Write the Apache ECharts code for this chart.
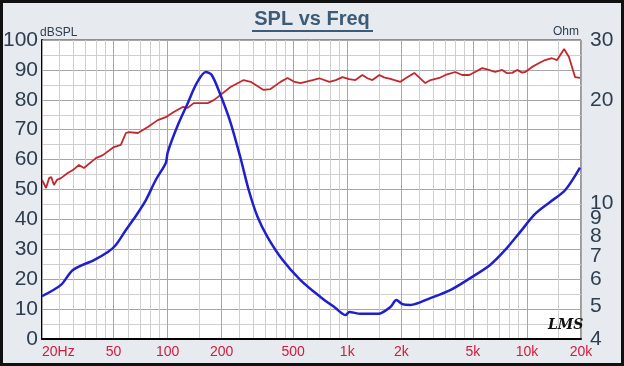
<!DOCTYPE html>
<html><head><meta charset="utf-8">
<script src="https://cdn.jsdelivr.net/npm/echarts@6/dist/echarts.min.js"></script>
<style>html,body{margin:0;padding:0;background:#111;}#c{width:624px;height:366px;}</style>
</head><body><div id="c"></div>
<script>
// SPL (dB) curve
const splFreq = [20,21.05,21.9,22.5,23.3,24.2,25.5,27.8,29.7,32.1,34.2,39.9,43.6,50.2,54.9,58.6,60.8,68.3,77.6,88.1,97.7,108.2,121.4,129.4,139.7,167.2,180.6,190,224,265,290,342,374,425,465,504,549,641,698,796,863,940,1024,1110,1214,1294,1380,1510,1602,1738,1782,1975,2114,2362,2718,2910,3252,3525,3990,4366,4775,5176,5637,6140,6654,7280,7760,8279,8820,9400,9775,10690,11640,12620,13800,14720,16110,17140,18530,19740];
const splDb   = [53.2,50.5,53.8,54.2,51.5,53.2,53.8,55.5,56.5,58.2,57.2,60.5,61.5,64.2,64.9,68.9,69.2,68.9,70.9,73.2,74.2,75.9,77.6,77.3,78.9,78.9,79.9,80.9,84.3,86.6,86.0,83.3,83.6,86.0,87.3,86.1,85.6,86.6,87.2,86.0,86.6,87.6,86.9,86.6,88.3,87.2,86.6,88.3,87.5,87.0,87.2,86.0,87.2,89.0,85.6,86.6,87.3,88.3,89.3,88.3,88.3,89.4,90.6,90.0,89.3,90.0,88.9,89.0,90.0,89.1,89.3,91.0,92.2,93.3,93.9,93.3,97.0,94.3,87.6,87.3];
// Impedance (Ohm) curve
const impFreq = [20,25.5,29.7,38.9,46.5,51.5,58.6,66.5,75.7,86,97.7,100.2,113.9,129.4,145,163,176,197,224,255,283,317,360,437,549,709,860,978,1028,1184,1490,1738,1876,2026,2244,2898,3740,4834,6240,7570,9160,11100,13460,16300,19740];
const impOhm  = [5.34,5.76,6.37,6.81,7.19,7.54,8.34,9.16,10.2,11.7,13.1,14.1,16.9,19.6,22.4,24.2,23.7,20.7,17.2,13.5,10.9,9.1,7.95,6.81,5.95,5.31,4.93,4.70,4.80,4.74,4.74,4.96,5.20,5.06,5.03,5.27,5.56,6.03,6.59,7.29,8.22,9.29,10.07,10.9,12.7];
// Tick labels
const freqMajor = [20,50,100,200,500,1000,2000,5000,10000,20000];
const freqMinor = [25,30,35,40,45,60,70,80,90,150,250,300,350,400,450,600,700,800,900,1500,2500,3000,3500,4000,4500,6000,7000,8000,9000,15000];
const ohmTicks = [4,5,6,7,8,9,10,20,30];

const L = Math.log10;
const fLabel = v => { const f = Math.round(Math.pow(10, v)); if (f === 20) return '20Hz'; return f >= 1000 ? (f/1000) + 'k' : String(f); };
const chart = echarts.init(document.getElementById('c'));
const gridCol = '#a6a6a6', gridMinor = '#cfcfcf';
chart.setOption({
  animation: false,
  backgroundColor: '#111',
  graphic: [
    {type:'rect', z:-10, shape:{x:3,y:3,width:618,height:360}, style:{fill:'#e7eaee'}},
    {type:'text', left:'center', top:9, style:{text:'SPL vs Freq', font:'bold 20px "Liberation Sans", Arial', fill:'#3b5b78'}},
    {type:'line', shape:{x1:252,y1:31,x2:373,y2:31}, style:{stroke:'#3b5b78', lineWidth:2}},
    {type:'text', left:40, top:27, style:{text:'dBSPL', font:'12px "Liberation Sans", Arial', fill:'#2d3e50'}},
    {type:'text', left:553, top:26, style:{text:'Ohm', font:'12px "Liberation Sans", Arial', fill:'#2d3e50'}},
    {type:'text', left:548, top:318, z:100, style:{text:'LMS', font:'italic bold 14px "DejaVu Serif", serif', fill:'#111'}}
  ],
  grid: {left:41, right:43, top:40, bottom:27, show:true, backgroundColor:'#fff', borderColor:'#333', borderWidth:1},
  xAxis: [
    {type:'value', min:L(20), max:L(20000),
     axisLine:{show:true, lineStyle:{color:'#000', width:2}},
     axisTick:{show:false, customValues: freqMajor.map(L)},
     axisLabel:{customValues: freqMajor.map(L), formatter: fLabel, color:'#d41a3c', fontSize:14, fontFamily:'"Liberation Sans", Arial', margin:6, alignMinLabel:'left'},
     splitLine:{show:true, lineStyle:{color:gridCol, width:1}}, z:3},
    {type:'value', min:L(20), max:L(20000), position:'bottom',
     axisLine:{show:false}, axisLabel:{show:false},
     axisTick:{show:false, customValues: freqMinor.map(L)},
     splitLine:{show:true, lineStyle:{color:gridMinor, width:1}}, z:1}
  ],
  yAxis: [
    {type:'value', min:0, max:100, interval:5, position:'left',
     axisLine:{show:true, lineStyle:{color:'#000', width:2}},
     axisTick:{show:false},
     axisLabel:{showMinLabel:true, showMaxLabel:true, hideOverlap:false, formatter: v => (v % 10 === 0 ? String(v) : ''), color:'#2d3e50', fontSize:21, fontFamily:'"Liberation Sans", Arial', margin:4},
     splitLine:{show:true, lineStyle:{color:[gridCol, gridMinor], width:1}}},
    {type:'value', min:L(4), max:L(30), position:'right',
     axisLine:{show:false}, axisTick:{show:false, customValues: ohmTicks.map(L)},
     axisLabel:{customValues: ohmTicks.map(L), formatter: v => String(Math.round(Math.pow(10, v))), color:'#2d3e50', fontSize:21, fontFamily:'"Liberation Sans", Arial', margin:9},
     splitLine:{show:false}}
  ],
  series: [
    {type:'line', xAxisIndex:0, yAxisIndex:0, symbol:'none', smooth:false,
     lineStyle:{color:'#c4262e', width:1.8}, data: splFreq.map((f,i)=>[L(f), splDb[i]]), z:5},
    {type:'line', xAxisIndex:0, yAxisIndex:1, symbol:'none', smooth:0.3,
     lineStyle:{color:'#1f1fcc', width:2.5}, data: impFreq.map((f,i)=>[L(f), L(impOhm[i])]), z:6}
  ]
});
</script></body></html>
